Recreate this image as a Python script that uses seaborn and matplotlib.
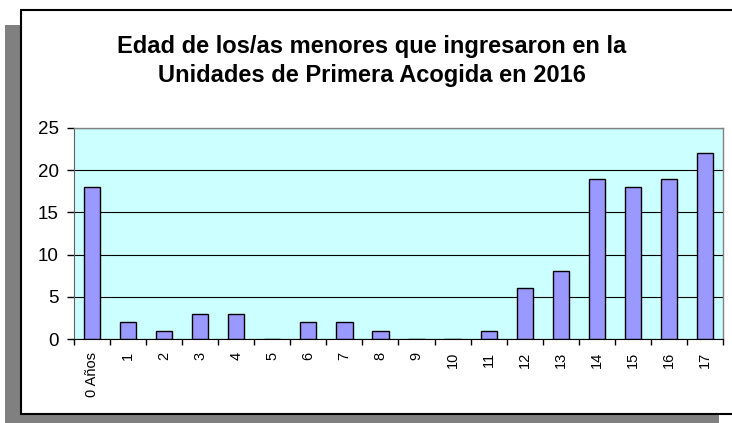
import matplotlib
matplotlib.use("Agg")
import matplotlib.pyplot as plt
import seaborn as sns
from matplotlib.patches import Rectangle

# data
edades = ["0 Años", "1", "2", "3", "4", "5", "6", "7", "8", "9",
          "10", "11", "12", "13", "14", "15", "16", "17"]
menores = [18, 2, 1, 3, 3, 0, 2, 2, 1, 0, 0, 1, 6, 8, 19, 18, 19, 22]
y_ticks = [0, 5, 10, 15, 20, 25]

titulo = "Edad de los/as menores que ingresaron en la\nUnidades de Primera Acogida en 2016"

sns.set_style("white")
plt.rcParams["font.family"] = ["Liberation Sans", "DejaVu Sans"]

W, H = 732, 423
fig = plt.figure(figsize=(W / 100, H / 100), dpi=100)

# shadow and chart box
fig.patches.append(Rectangle((5 / W, 0), (719 - 5) / W, 1 - 25 / H,
                             transform=fig.transFigure, facecolor="#808080",
                             edgecolor="none", zorder=-3))
fig.patches.append(Rectangle((21 / W, 1 - 414 / H), 1.2, (414 - 10) / H,
                             transform=fig.transFigure, facecolor="white",
                             edgecolor="black", linewidth=1.5, zorder=-2))

ax = fig.add_axes([74 / W, 1 - 339 / H, (723 - 74) / W, (339 - 128) / H])
ax.set_facecolor("#CCFFFF")

sns.barplot(x=edades, y=menores, color="#9999FF", edgecolor="black",
            linewidth=1.0, width=0.45, saturation=1, ax=ax, zorder=3)

ax.set_xlim(-0.5, len(edades) - 0.5)
ax.set_ylim(0, 25)
ax.set_yticks(y_ticks)
ax.yaxis.grid(True, color="black", linewidth=0.8)
ax.set_axisbelow(True)

ax.set_xticks([i - 0.5 for i in range(len(edades) + 1)], minor=True)
ax.tick_params(axis="x", which="major", length=0, pad=9, labelsize=10.5,
               rotation=90, labelcolor="black")
ax.tick_params(axis="x", which="minor", length=4, width=1, color="black",
               direction="out", bottom=True)
ax.tick_params(axis="y", length=5, width=1, color="black", direction="out",
               left=True, labelsize=13.5, labelcolor="black", pad=6)

for s in ["top", "right"]:
    ax.spines[s].set_color("#808080")
    ax.spines[s].set_linewidth(1)
ax.spines["left"].set_color("#606060")
ax.spines["bottom"].set_color("black")
ax.set_xlabel("")
ax.set_ylabel("")

fig.text(372 / W, 1 - 61 / H, titulo, ha="center", va="center", color="black",
         fontsize=17, fontweight="bold", linespacing=1.3)

fig.savefig("out.png", dpi=100)
